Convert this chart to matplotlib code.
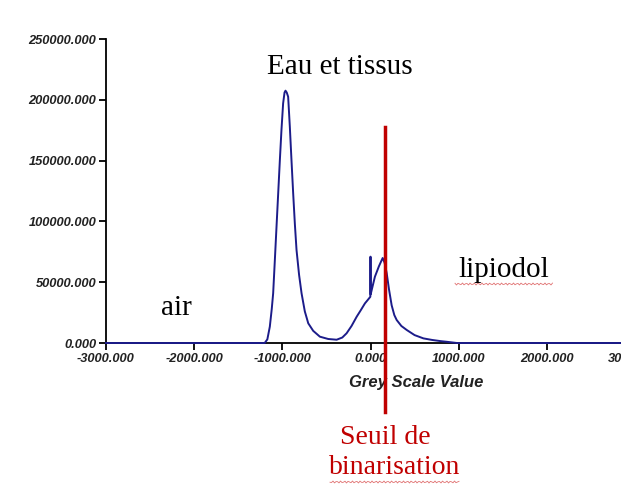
import numpy as np
import matplotlib.pyplot as plt
from matplotlib.lines import Line2D

# histogramme des niveaux de gris
grey = [-3000, -1200, -1170, -1142, -1120, -1104, -1085, -1066, -1047, -1028,
        -1010, -991, -975, -964, -950, -934, -915, -896, -877, -858, -839,
        -810, -782, -745, -706, -650, -574, -480, -384, -320, -271, -215, -157,
        -110, -63, -30, -2, 0, 2, 25, 50, 95, 138, 160, 184, 210, 240, 270, 297,
        350, 411, 500, 600, 700, 800, 865, 980, 3300]
counts = [0, 0, 3000, 13400, 28000, 40900, 68000, 95600, 123000, 150500,
          175000, 197100, 206000, 207500, 206000, 202500, 177900, 150000,
          123000, 98000, 76500, 56000, 40900, 26000, 16200, 10000, 5200, 3300,
          2700, 4500, 8000, 14000, 21600, 27000, 32600, 35500, 38000, 71000,
          40000, 47000, 54500, 63000, 69900, 66000, 57300, 44000, 31000, 23000,
          18900, 14000, 10700, 6500, 3800, 2500, 1500, 1000, 0, 0]
seuil = 165

xticks = [-3000, -2000, -1000, 0, 1000, 2000, 3000]
yticks = [0, 50000, 100000, 150000, 200000, 250000]

fig = plt.figure(figsize=(6.21, 4.88), dpi=100)
ax = fig.add_axes([106/621, 145/488, 529/621, 304/488])

ax.plot(grey, counts, color='#1c1c8a', lw=1.4, clip_on=False, zorder=3)
ax.set_xlim(-3000, 3000)
ax.set_ylim(0, 250000)
ax.spines['top'].set_visible(False)
ax.spines['right'].set_visible(False)
ax.spines['left'].set_linewidth(1.3)
ax.spines['bottom'].set_linewidth(1.3)
ax.set_xticks(xticks)
ax.set_yticks(yticks)
ax.set_xticklabels(['%.3f' % v for v in xticks])
ax.set_yticklabels(['%.3f' % v for v in yticks])
ax.tick_params(direction='out', length=5, width=1.3, pad=2)
for lab in ax.get_xticklabels() + ax.get_yticklabels():
    lab.set_family('Liberation Sans')
    lab.set_fontweight('bold')
    lab.set_fontstyle('italic')
    lab.set_fontsize(9.3)
    lab.set_color('#222222')
ax.set_xlabel('Grey Scale Value', family='Liberation Sans', fontweight='bold',
              style='italic', fontsize=12, labelpad=0, color='#222222')
ax.xaxis.set_label_coords((416-106)/529, -0.105)

# seuil de binarisation
ax.plot([seuil, seuil], [177500, -56500], color='#c00000', lw=2.5,
        clip_on=False, zorder=4)

serif = 'Liberation Serif'
fig.text(340/621, 1-67/488, 'Eau et tissus', family=serif, fontsize=21,
         ha='center', va='center')
fig.text(176/621, 1-308/488, 'air', family=serif, fontsize=21,
         ha='center', va='center')
fig.text(504/621, 1-270/488, 'lipiodol', family=serif, fontsize=21,
         ha='center', va='center')
fig.text(385/621, 1-437/488, 'Seuil de', family=serif, fontsize=20,
         ha='center', va='center', color='#c00000')
fig.text(395/621, 1-468/488, 'binarisation', family=serif, fontsize=20,
         ha='center', va='center', color='#c00000')

# soulignement du correcteur orthographique
for x0, x1, y in [(455, 553, 284), (330, 460, 482)]:
    xs = np.arange(x0, x1, 1.5)
    ys = y + 1.0 * np.sin(xs * 1.6)
    fig.add_artist(Line2D(xs/621, 1-ys/488, color='#e07070', lw=0.6))

fig.savefig('out.png', dpi=100)
